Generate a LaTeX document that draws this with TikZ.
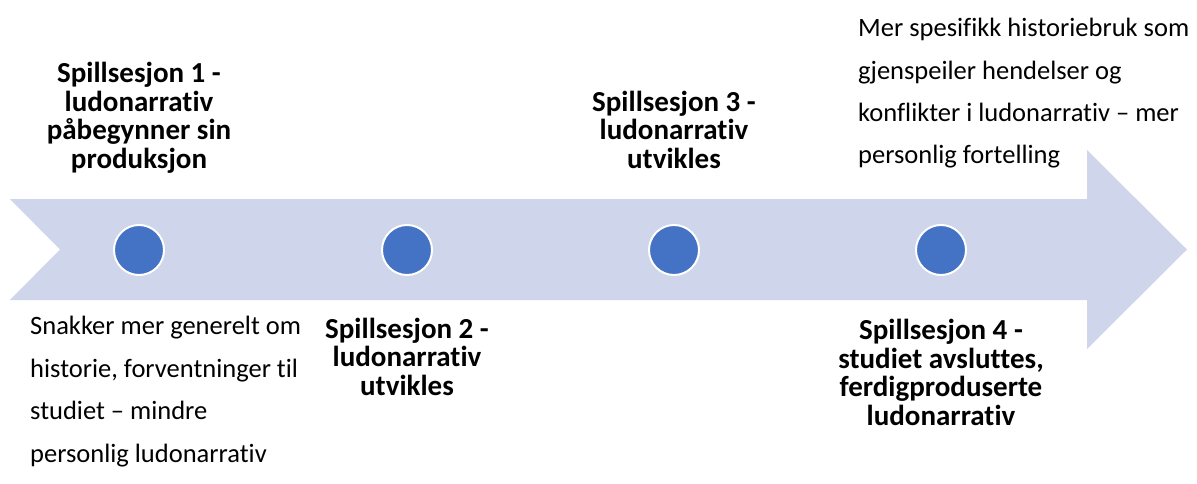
\documentclass[tikz,border=0pt]{standalone}
\usepackage{fontspec}
\setmainfont{Carlito}[Ligatures=NoCommon]
\definecolor{arrowfill}{HTML}{CFD5EA}
\definecolor{dotfill}{HTML}{4472C4}
\begin{document}
\begin{tikzpicture}[x=1pt,y=-1pt,
  dot/.style={circle,fill=dotfill,draw=white,line width=2pt,minimum size=50pt,inner sep=0pt},
  title/.style={align=center,inner sep=0pt,anchor=base,font=\fontsize{29}{28.5}\selectfont\bfseries},
  note/.style={align=left,inner sep=0pt,anchor=base west,font=\fontsize{26.5}{42.5}\selectfont}]
\useasboundingbox (0,0) rectangle (1197,484);
% timeline arrow with notched tail
\fill[arrowfill] (10,199) -- (1087,199) -- (1087,150) -- (1187,249.5)
  -- (1087,349) -- (1087,300) -- (10,300) -- (60,249.5) -- cycle;
% session markers
\node[dot] (d1) at (139,250) {};
\node[dot] (d2) at (407,250) {};
\node[dot] (d3) at (674,250) {};
\node[dot] (d4) at (941,250) {};
% session titles (positioned by the baseline of their last line)
\node[title] (t1) at (139,168) {Spillsesjon 1 -\\ludonarrativ\\påbegynner sin\\produksjon};
\node[title] (t2) at (407,395) {Spillsesjon 2 -\\ludonarrativ\\utvikles};
\node[title] (t3) at (674,168) {Spillsesjon 3 -\\ludonarrativ\\utvikles};
\node[title] (t4) at (941,425) {Spillsesjon 4 -\\studiet avsluttes,\\ferdigproduserte\\ludonarrativ};
% descriptions
\node[note] (n1) at (30,462) {Snakker mer generelt om\\historie, forventninger til\\studiet – mindre\\personlig ludonarrativ};
\node[note] (n2) at (858,164) {Mer spesifikk historiebruk som\\gjenspeiler hendelser og\\konflikter i ludonarrativ – mer\\personlig fortelling};
\end{tikzpicture}
\end{document}
